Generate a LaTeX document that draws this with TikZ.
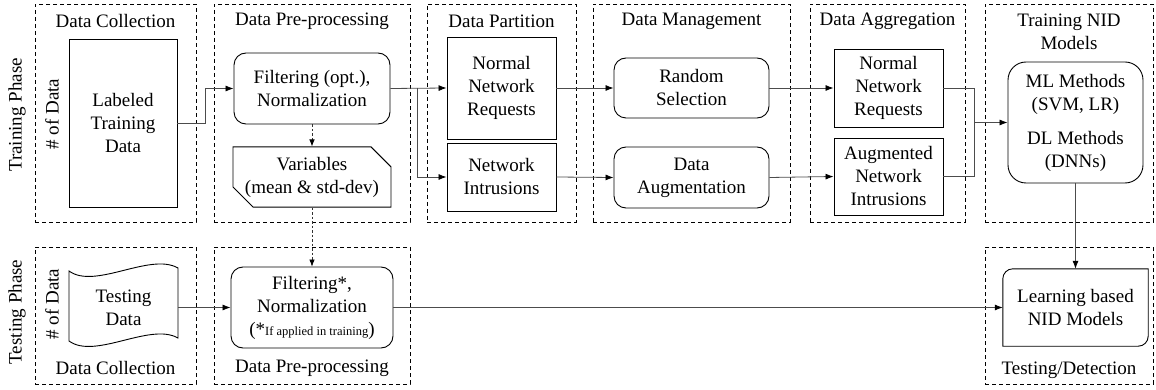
\documentclass[tikz,border=0pt]{standalone}
\usepackage{fontspec}
\setmainfont{Liberation Serif}
\usetikzlibrary{arrows.meta,shapes.misc,calc}
\begin{document}
\begin{tikzpicture}[x=1pt,y=-1pt,
  every node/.style={font=\fontsize{19}{23}\selectfont, inner sep=0pt, align=center},
  grp/.style={draw, dash pattern=on 4pt off 3pt, line width=0.9pt},
  box/.style={draw, line width=0.9pt},
  rbox/.style={box, rounded corners=12pt},
  arr/.style={draw=black!70, line width=0.8pt, -{Latex[length=8pt,width=6pt,color=black]}},
  ln/.style={draw=black!70, line width=0.8pt},
  darr/.style={draw=black!80, line width=0.7pt, dash pattern=on 2.5pt off 2pt, -{Latex[length=7pt,width=5.5pt,color=black]}},
  lbl/.style={rotate=90}
]
\useasboundingbox (0,0) rectangle (1156,390);
% group boxes (training)
\node[grp, minimum width=161, minimum height=218] (g1) at (115.5,113) {};
\node[grp, minimum width=196, minimum height=218] (g2) at (312,113) {};
\node[grp, minimum width=149, minimum height=218] (g3) at (501.5,113) {};
\node[grp, minimum width=197, minimum height=218] (g4) at (691.5,113) {};
\node[grp, minimum width=155, minimum height=218] (g5) at (887.5,113) {};
\node[grp, minimum width=168, minimum height=218] (g6) at (1069,113) {};
% group boxes (testing)
\node[grp, minimum width=161, minimum height=137] (t1) at (115.5,315.5) {};
\node[grp, minimum width=196, minimum height=137] (t2) at (312,315.5) {};
\node[grp, minimum width=168, minimum height=137] (t3) at (1069,315.5) {};
% titles
\node (h1) at (115.5,21) {Data Collection};
\node (h2) at (312,21) {Data Pre-processing};
\node (h3) at (501.5,21) {Data Partition};
\node (h4) at (691.5,21) {Data Management};
\node (h5) at (887.5,21) {Data Aggregation};
\node (h6) at (1069,32) {Training NID\\Models};
\node (k1) at (115.5,368) {Data Collection};
\node (k2) at (312,368) {Data Pre-processing};
\node (k3) at (1069,370) {Testing/Detection};
% side labels
\node[lbl] (tp) at (17,115) {Training Phase};
\node[lbl] (sp) at (17,312) {Testing Phase};
\node[lbl] (n1) at (52,114) {\# of Data};
\node[lbl] (n2) at (52,304) {\# of Data};
% training nodes
\node[box, minimum width=108, minimum height=168] (ltd) at (123,123) {Labeled\\Training\\Data};
\node[rbox, minimum width=156, minimum height=71] (filt) at (312,88.5) {Filtering (opt.),\\Normalization};
\node[box, chamfered rectangle, chamfered rectangle corners={north east,south west},
      chamfered rectangle xsep=10pt, chamfered rectangle ysep=10pt,
      minimum width=158, minimum height=58] (vars) at (312,177) {Variables\\(mean \& std-dev)};
\node[box, minimum width=109, minimum height=102] (nnr) at (501.5,88) {Normal\\Network\\Requests};
\node[box, minimum width=109, minimum height=68] (ni) at (501.5,177) {Network\\Intrusions};
\node[rbox, minimum width=155, minimum height=60] (rs) at (691.5,88) {Random\\Selection};
\node[rbox, minimum width=155, minimum height=61] (da) at (691.5,177.5) {Data\\Augmentation};
\node[box, minimum width=109, minimum height=78] (nnr2) at (888.5,88) {Normal\\Network\\Requests};
\node[box, minimum width=109, minimum height=77] (ani) at (888.5,176.5) {Augmented\\Network\\Intrusions};
\node[box, rounded corners=18pt, minimum width=135, minimum height=121] (ml) at (1075.5,122.5)
  {ML Methods\\(SVM, LR)\\[11pt]DL Methods\\(DNNs)};
% testing nodes
\node[minimum width=109, minimum height=80] (td) at (123.5,307.5) {Testing\\Data};
\draw[line width=0.9pt] (69,271) .. controls (95,290) and (150,252) .. (178,268)
  -- (178,338) .. controls (150,322) and (95,360) .. (69,341) -- cycle;
\node[rbox, minimum width=162, minimum height=81] (tfilt) at (312,307.5)
  {Filtering*,\\Normalization\\(*{\fontsize{12.5}{14}\selectfont If applied in training})};
\node[minimum width=145, minimum height=77] (lnid) at (1075.5,307.5) {Learning based\\NID Models};
\draw[line width=0.9pt] (lnid.south west) -- ([yshift=-10pt]lnid.north west)
  arc[start angle=180, end angle=90, radius=10pt] -- (lnid.north east)
  -- ([yshift=10pt]lnid.south east) arc[start angle=0, end angle=-90, radius=10pt] -- cycle;
% connectors
\draw[arr] (ltd.east) -- ++(28,0) |- (filt.west);
\draw[darr] (filt.south) -- (vars.north);
\draw[darr] (vars.south) -- (tfilt.north);
\draw[arr] (filt.east) -- (nnr.west);
\coordinate (br1) at ([xshift=-29pt]nnr.west);
\draw[arr] (br1) |- (ni.west);
\draw[arr] (nnr.east) -- (rs.west);
\draw[arr] (ni.east) -- (da.west);
\draw[arr] (rs.east) -- (nnr2.west);
\draw[arr] (da.east) -- (ani.west);
\coordinate (mj) at ([xshift=-33pt]ml.west);
\draw[ln] (nnr2.east) -| (mj);
\draw[ln] (ani.east) -| (mj);
\draw[arr] (mj) -- (ml.west);
\draw[arr] (ml.south) -- (lnid.north);
\draw[arr] (td.east) -- (tfilt.west);
\draw[arr] (tfilt.east) -- (lnid.west);
\end{tikzpicture}
\end{document}
